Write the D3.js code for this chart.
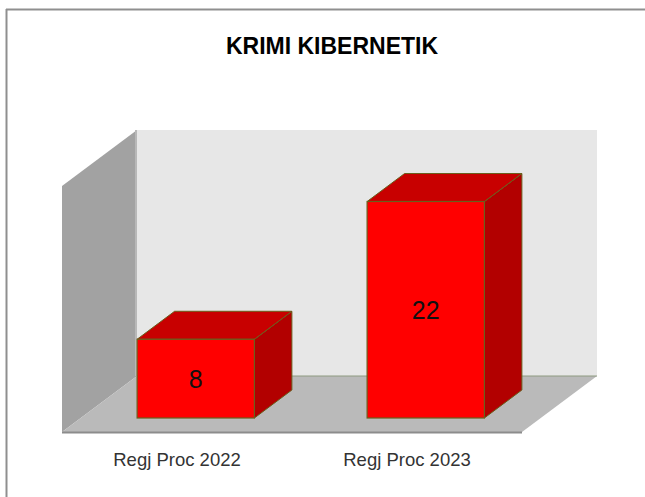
<!DOCTYPE html>
<html><head><meta charset="utf-8">
<script src="https://cdn.jsdelivr.net/npm/d3@7"></script>
<style>body{margin:0;background:#fff}</style></head><body>
<script>
const categories = ["Regj Proc 2022", "Regj Proc 2023"];
const values = [8, 22];
const yDomain = [0, 25];
const title = "KRIMI KIBERNETIK";

const W = 645, H = 497;
const svg = d3.select("body").append("svg").attr("width", W).attr("height", H);

const floorY = 432, x0 = 62, x1 = 522, depthX = 75, depthY = -56;
const x = d3.scaleBand().domain(categories).range([x0, x1]);
const y = d3.scaleLinear().domain(yDomain).range([0, 246]);

// border (top and left)
svg.append("line").attr("x1", 6).attr("x2", W).attr("y1", 9.5).attr("y2", 9.5)
  .attr("stroke", "#8f8f8f").attr("stroke-width", 2);
svg.append("line").attr("x1", 6.5).attr("x2", 6.5).attr("y1", 9).attr("y2", H)
  .attr("stroke", "#8f8f8f").attr("stroke-width", 2);

// title
svg.append("text").attr("x", 332).attr("y", 54).attr("text-anchor", "middle")
  .attr("font-family", "Liberation Sans, Arial, sans-serif").attr("font-weight", "bold")
  .attr("font-size", 23).attr("fill", "#000").text(title);

const topY = floorY + depthY - y(yDomain[1]);
const pts = a => a.map(p => p.join(",")).join(" ");

// back wall
svg.append("polygon").attr("points", pts([
  [x0 + depthX, floorY + depthY], [x1 + depthX, floorY + depthY],
  [x1 + depthX, topY], [x0 + depthX, topY]])).attr("fill", "#e7e7e7");
// left wall
svg.append("polygon").attr("points", pts([
  [x0, floorY], [x0 + depthX, floorY + depthY], [x0 + depthX, topY], [x0, topY - depthY]]))
  .attr("fill", "#a2a2a2");
svg.append("line").attr("x1", x0 + depthX - 1).attr("x2", x0 + depthX - 1)
  .attr("y1", topY).attr("y2", floorY + depthY).attr("stroke", "#b8b8b8").attr("stroke-width", 2);
// floor
svg.append("polygon").attr("points", pts([
  [x0, floorY], [x1, floorY], [x1 + depthX, floorY + depthY], [x0 + depthX, floorY + depthY]]))
  .attr("fill", "#bababa");
svg.append("line").attr("x1", x0 + depthX).attr("x2", x1 + depthX)
  .attr("y1", floorY + depthY).attr("y2", floorY + depthY).attr("stroke", "#8e9a80").attr("stroke-width", 1);
svg.append("line").attr("x1", x0).attr("x2", x1).attr("y1", floorY + 0.5).attr("y2", floorY + 0.5)
  .attr("stroke", "#8c8c8c").attr("stroke-width", 2);

// bars
const bw = x.bandwidth() * 0.51;
const fOff = [depthX * 0.25, depthY * 0.25];
const bd = [depthX * 0.5, depthY * 0.5];
const baseY = floorY + fOff[1];
const g = svg.append("g");
categories.forEach((c, i) => {
  const v = values[i];
  const fx = x(c) + x.bandwidth() / 2 + fOff[0] - bw / 2;
  const top = baseY - y(v);
  const stroke = "#6a5f1c";
  g.append("polygon").attr("points", pts([[fx + bw, top], [fx + bw + bd[0], top + bd[1]],
    [fx + bw + bd[0], baseY + bd[1]], [fx + bw, baseY]]))
    .attr("fill", "#b20000").attr("stroke", stroke).attr("stroke-width", 1);
  g.append("polygon").attr("points", pts([[fx, top], [fx + bd[0], top + bd[1]],
    [fx + bw + bd[0], top + bd[1]], [fx + bw, top]]))
    .attr("fill", "#c80000").attr("stroke", stroke).attr("stroke-width", 1);
  g.append("rect").attr("x", fx).attr("y", top).attr("width", bw).attr("height", y(v))
    .attr("fill", "#ff0000").attr("stroke", stroke).attr("stroke-width", 1.2);
  g.append("text").attr("x", fx + bw / 2).attr("y", top + y(v) / 2)
    .attr("dy", "0.36em").attr("text-anchor", "middle")
    .attr("font-family", "Liberation Sans, Arial, sans-serif").attr("font-size", 25)
    .attr("fill", "#111").text(v);
  // category label
  svg.append("text").attr("x", x(c) + x.bandwidth() / 2).attr("y", 466)
    .attr("text-anchor", "middle")
    .attr("font-family", "Liberation Sans, Arial, sans-serif").attr("font-size", 18.5)
    .attr("fill", "#333").text(c);
});
</script>
</body></html>
